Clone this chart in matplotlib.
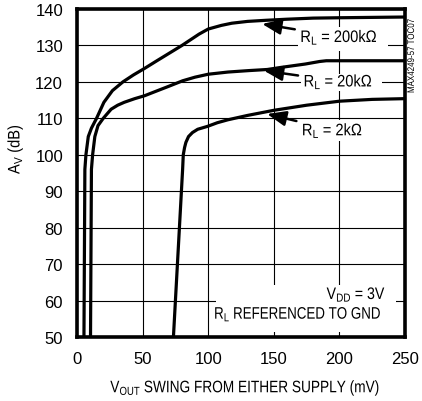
import matplotlib
matplotlib.use("Agg")
import matplotlib.pyplot as plt
from matplotlib import patheffects
from matplotlib.path import Path
from matplotlib.patches import Rectangle

FONT = ['Liberation Sans', 'DejaVu Sans']
plt.rcParams['font.family'] = FONT
plt.rcParams['mathtext.fontset'] = 'custom'
plt.rcParams['mathtext.rm'] = 'Liberation Sans'
plt.rcParams['mathtext.it'] = 'Liberation Sans'


class Squeeze(patheffects.AbstractPathEffect):
    """Draw text condensed horizontally (along its baseline)."""
    def __init__(self, sx=0.85, anchor='left'):
        super().__init__()
        self.sx = sx
        self.anchor = anchor

    def draw_path(self, renderer, gc, tpath, affine, rgbFace=None):
        v = tpath.vertices.copy()
        codes = tpath.codes
        if len(v):
            if codes is not None:
                m = codes != Path.CLOSEPOLY
                xs = v[m, 0] if m.any() else v[:, 0]
            else:
                xs = v[:, 0]
            if self.anchor == 'left':
                x0 = 0.0
            elif self.anchor == 'right':
                x0 = xs.max()
            else:
                x0 = 0.5 * (xs.min() + xs.max())
            v[:, 0] = x0 + self.sx * (v[:, 0] - x0)
        renderer.draw_path(gc, Path(v, codes), affine, rgbFace)


# ---- data ----
x_200k = [5.3, 6.0, 6.8, 8.6, 11.0, 14.9, 20.5, 27, 35, 43, 51.5, 60, 70, 80, 93, 100, 110, 118, 130, 144, 160, 180, 200, 225, 250]
y_200k = [50, 96, 100, 105, 107.3, 110, 114.4, 117.6, 120, 121.9, 123.7, 125.6, 127.8, 130, 133.1, 134.5, 135.5, 136.1, 136.6, 136.9, 137.2, 137.5, 137.6, 137.7, 137.8]

x_20k = [10.3, 11.0, 11.9, 13.6, 16.0, 20.0, 26.0, 31, 36, 44, 51.5, 60, 70, 80.5, 90, 100, 115, 131, 145, 156, 174, 185, 190, 220, 250]
y_20k = [50, 96, 100, 105, 108, 110, 112.5, 113.6, 114.4, 115.4, 116.2, 117.4, 118.8, 120.3, 121.3, 122.1, 122.7, 123.1, 123.4, 124.0, 124.9, 125.6, 125.8, 125.8, 125.8]

x_2k = [73.5, 80.5, 81.0, 82.0, 83.0, 85.0, 88.0, 92.0, 99.5, 107, 115, 130, 150, 175, 200, 225, 250]
y_2k = [50, 96, 100, 102, 103.4, 105.0, 106.1, 107.0, 107.8, 108.8, 109.6, 110.8, 112.2, 113.6, 114.7, 115.2, 115.4]

x_ticks = [0, 50, 100, 150, 200, 250]
y_ticks = [50, 60, 70, 80, 90, 100, 110, 120, 130, 140]

labels = ['R$_\\mathrm{L}$ = 200kΩ', 'R$_\\mathrm{L}$ = 20kΩ', 'R$_\\mathrm{L}$ = 2kΩ']
arrow_tips = [(141.1, 135.9), (142.4, 123.1), (144.9, 111.2)]
text_pos = [(170.2, 132.2), (172.7, 120.0), (171.4, 106.6)]
# white masks behind the labels (x0, y0, width, height) in data units
label_masks = [(168.4, 128.5, 68.6, 6.5), (170.5, 117.6, 62.0, 4.6), (168.4, 103.8, 66.3, 5.7)]
note_mask = (106.0, 51.4, 137.0, 12.9)

fig = plt.figure(figsize=(4.22, 4.02), dpi=100)
ax = fig.add_axes([77/422, 1-338/402, (405-77)/422, (338-10)/402])

ax.set_xlim(0, 250)
ax.set_ylim(50, 140)
ax.set_xticks(x_ticks)
ax.set_yticks(y_ticks)
ax.grid(True, color='black', linewidth=0.8, zorder=0)
ax.set_axisbelow(True)
ax.tick_params(length=0, labelsize=12)
ax.tick_params(axis='x', pad=10)
ax.tick_params(axis='y', pad=10)
for s in ax.spines.values():
    s.set_linewidth(2.6)

for (mx, my, mw, mh) in label_masks + [note_mask]:
    ax.add_patch(Rectangle((mx, my), mw, mh, facecolor='white', edgecolor='none', zorder=1.5))

for xs, ys in [(x_200k, y_200k), (x_20k, y_20k), (x_2k, y_2k)]:
    ax.plot(xs, ys, color='black', linewidth=2.3, solid_joinstyle='round',
            solid_capstyle='butt', zorder=3)

for lab, tip, tp in zip(labels, arrow_tips, text_pos):
    ax.annotate(lab, xy=tip, xytext=tp, ha='left', va='center', fontsize=12,
                path_effects=[Squeeze(0.88, 'left')],
                arrowprops=dict(arrowstyle='-|>,head_length=0.95,head_width=0.38',
                                color='black', lw=1.8, shrinkA=2, shrinkB=0),
                zorder=4)

ax.text(235.6, 61.7, 'V$_\\mathrm{DD}$ = 3V', ha='right', va='center', fontsize=12,
        path_effects=[Squeeze(0.85, 'right')], zorder=2)
ax.text(232.0, 56.3, 'R$_\\mathrm{L}$ REFERENCED TO GND', ha='right', va='center', fontsize=12,
        path_effects=[Squeeze(0.8, 'right')], zorder=2)

ax.set_xlabel('V$_\\mathrm{OUT}$ SWING FROM EITHER SUPPLY (mV)', fontsize=12,
              path_effects=[Squeeze(0.82, 'center')])
ax.xaxis.label.set_va('center')
ax.xaxis.set_label_coords(0.512, -0.155)
ax.set_ylabel('A$_\\mathrm{V}$ (dB)', fontsize=12, path_effects=[Squeeze(0.88, 'center')])
ax.yaxis.label.set_va('center')
ax.yaxis.set_label_coords(-0.189, 0.573)

fig.text(411/422, 1-57/402, 'MAX4249-57 TOC07', rotation=90, ha='center', va='center',
         fontsize=7, path_effects=[Squeeze(0.82, 'center')])

fig.savefig('out.png', dpi=100)
